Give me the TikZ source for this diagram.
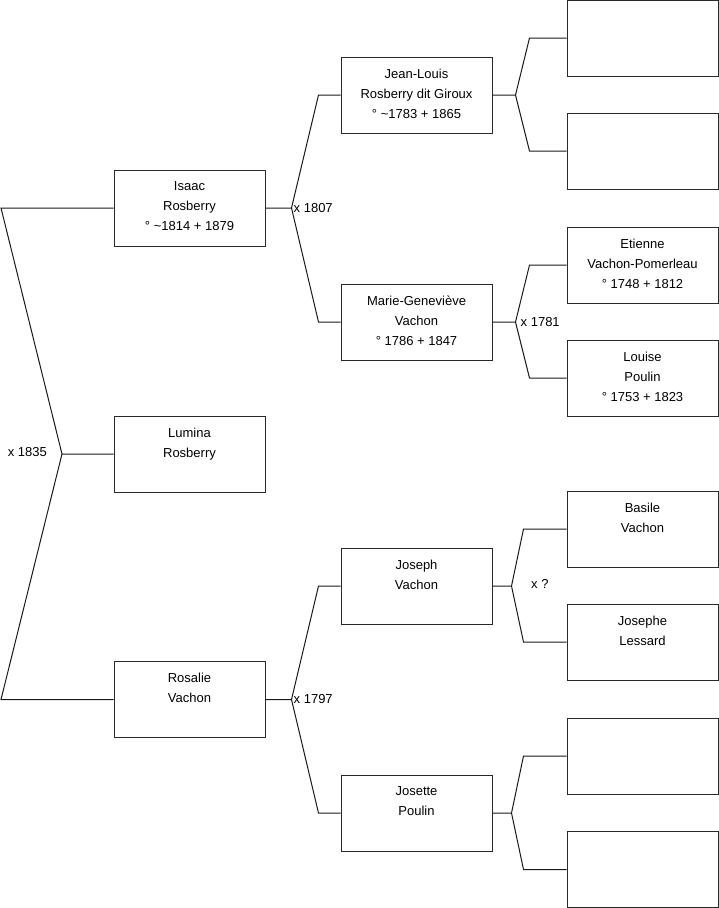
\documentclass[tikz,border=0pt]{standalone}
\usepackage{fontspec}
\setmainfont{Liberation Sans}
\usetikzlibrary{calc}
\definecolor{linec}{HTML}{1A1A1A}
\definecolor{boxc}{HTML}{2A2A2A}
\begin{document}
\begin{tikzpicture}[x=1pt,y=-1pt,
  person/.style={draw=boxc, line width=1pt, fill=white, rectangle,
    minimum width=151pt, minimum height=76pt, inner sep=0pt},
  ptext/.style={inner sep=0pt, align=center, font=\fontsize{13}{20}\selectfont},
  conn/.style={draw=linec, line width=1pt},
  mlabel/.style={inner sep=0pt, font=\fontsize{13}{15}\selectfont}
]
\useasboundingbox (0,0) rectangle (719,908);

% column 1
\node[person] (isaac) at (189.5,208) {};
\node[person] (lumina) at (189.5,454) {};
\node[person] (rosalie) at (189.5,699.5) {};
% column 2
\node[person] (jean) at (416.5,95) {};
\node[person] (marie) at (416.5,322) {};
\node[person] (joseph) at (416.5,586) {};
\node[person] (josette) at (416.5,813) {};
% column 3
\node[person] (r1) at (642.5,38) {};
\node[person] (r2) at (642.5,151) {};
\node[person] (etienne) at (642.5,265) {};
\node[person] (louise) at (642.5,378) {};
\node[person] (basile) at (642.5,529) {};
\node[person] (josephe) at (642.5,642) {};
\node[person] (r7) at (642.5,756) {};
\node[person] (r8) at (642.5,869.5) {};

% texts
\node[ptext, anchor=north] (tisaac) at ([yshift=-12]isaac.north) {Isaac\\Rosberry\\° \textasciitilde1814 + 1879};
\node[ptext, anchor=north] (tlumina) at ([yshift=-12]lumina.north) {Lumina\\Rosberry};
\node[ptext, anchor=north] (trosalie) at ([yshift=-12]rosalie.north) {Rosalie\\Vachon};
\node[ptext, anchor=north] (tjean) at ([yshift=-12]jean.north) {Jean-Louis\\Rosberry dit Giroux\\° \textasciitilde1783 + 1865};
\node[ptext, anchor=north] (tmarie) at ([yshift=-12]marie.north) {Marie-Geneviève\\Vachon\\° 1786 + 1847};
\node[ptext, anchor=north] (tjoseph) at ([yshift=-12]joseph.north) {Joseph\\Vachon};
\node[ptext, anchor=north] (tjosette) at ([yshift=-12]josette.north) {Josette\\Poulin};
\node[ptext, anchor=north] (tetienne) at ([yshift=-12]etienne.north) {Etienne\\Vachon-Pomerleau\\° 1748 + 1812};
\node[ptext, anchor=north] (tlouise) at ([yshift=-12]louise.north) {Louise\\Poulin\\° 1753 + 1823};
\node[ptext, anchor=north] (tbasile) at ([yshift=-12]basile.north) {Basile\\Vachon};
\node[ptext, anchor=north] (tjosephe) at ([yshift=-12]josephe.north) {Josephe\\Lessard};

% left bracket
\coordinate (l1) at (1,208);
\coordinate (l2) at (1,699.5);
\coordinate (m0) at (62,454);
\draw[conn] (isaac.west) -- (l1) -- (m0) -- (lumina.west);
\draw[conn] (m0) -- (l2) -- (rosalie.west);

% isaac bracket
\coordinate (m1) at ($(isaac.east)+(26,0)$);
\draw[conn] (isaac.east) -- (m1) -- ([xshift=-22]jean.west) -- (jean.west);
\draw[conn] (m1) -- ([xshift=-22]marie.west) -- (marie.west);
% rosalie bracket
\coordinate (m2) at ($(rosalie.east)+(26,0)$);
\draw[conn] (rosalie.east) -- (m2) -- ([xshift=-22]joseph.west) -- (joseph.west);
\draw[conn] (m2) -- ([xshift=-22]josette.west) -- (josette.west);
% jean bracket
\coordinate (m3) at ($(jean.east)+(23,0)$);
\draw[conn] (jean.east) -- (m3) -- ([xshift=-37]r1.west) -- (r1.west);
\draw[conn] (m3) -- ([xshift=-37]r2.west) -- (r2.west);
% marie bracket
\coordinate (m4) at ($(marie.east)+(23,0)$);
\draw[conn] (marie.east) -- (m4) -- ([xshift=-37]etienne.west) -- (etienne.west);
\draw[conn] (m4) -- ([xshift=-37]louise.west) -- (louise.west);
% joseph bracket
\coordinate (m5) at ($(joseph.east)+(19,0)$);
\draw[conn] (joseph.east) -- (m5) -- ([xshift=-43]basile.west) -- (basile.west);
\draw[conn] (m5) -- ([xshift=-43]josephe.west) -- (josephe.west);
% josette bracket
\coordinate (m6) at ($(josette.east)+(19,0)$);
\draw[conn] (josette.east) -- (m6) -- ([xshift=-43]r7.west) -- (r7.west);
\draw[conn] (m6) -- ([xshift=-43]r8.west) -- (r8.west);

% marriage labels
\node[mlabel, anchor=east] (x1835) at (47,452) {x 1835};
\node[mlabel, anchor=west] (x1807) at ([xshift=2]m1) {x 1807};
\node[mlabel, anchor=west] (x1797) at ([xshift=2]m2) {x 1797};
\node[mlabel, anchor=west] (x1781) at ([xshift=5]m4) {x 1781};
\node[mlabel, anchor=west] (xq) at (531,584) {x ?};
\end{tikzpicture}
\end{document}
